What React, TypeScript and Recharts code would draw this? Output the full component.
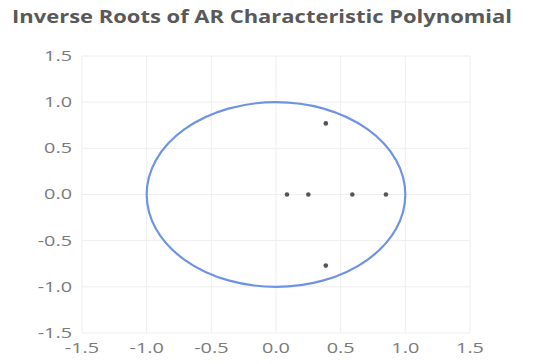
import React from "react";
import {
  ScatterChart,
  Scatter,
  XAxis,
  YAxis,
  CartesianGrid,
  ReferenceArea,
} from "recharts";

// Inverse roots: real and imaginary parts
const realParts = [0.085, 0.25, 0.59, 0.85, 0.385, 0.385];
const imagParts = [0, 0, 0, 0, 0.77, -0.77];
const axisTicks = [-1.5, -1.0, -0.5, 0.0, 0.5, 1.0, 1.5];
const unitRadius = 1;
const titleText = "Inverse Roots of AR Characteristic Polynomial";

const rootData = realParts.map((re, i) => ({ re, im: imagParts[i] }));

const W = 543;
const H = 364;

const TickLabel = (anchor: "middle" | "end") => (props: any) => {
  const { x, y, payload } = props;
  return (
    <g transform={`translate(${x},${y})`}>
      <text
        transform="scale(1.42,1)"
        textAnchor={anchor}
        dy={anchor === "end" ? "0.35em" : "0.71em"}
        fontSize={14}
        fontFamily="'Open Sans', sans-serif"
        fill="#7a7a7a"
      >
        {Number(payload.value).toFixed(1)}
      </text>
    </g>
  );
};

const Dot = (props: any) => {
  const { cx, cy } = props;
  return <circle cx={cx} cy={cy} r={2.3} fill="#555555" />;
};

const UnitCircle = (props: any) => {
  const { x, y, width, height } = props;
  return (
    <ellipse
      cx={x + width / 2}
      cy={y + height / 2}
      rx={width / 2}
      ry={height / 2}
      fill="none"
      stroke="#6e93e6"
      strokeWidth={2.2}
    />
  );
};

export default function App() {
  return (
    <div style={{ position: "absolute", left: 0, top: 0, width: W, height: H, background: "#fff" }}>
      <svg width={W} height={40} style={{ position: "absolute", left: 0, top: 0 }}>
        <text
          x={12}
          y={23}
          textLength={500}
          lengthAdjust="spacingAndGlyphs"
          fontSize={18}
          fontWeight="bold"
          fontFamily="'Open Sans', sans-serif"
          fill="#595959"
        >
          {titleText}
        </text>
      </svg>
      <div style={{ position: "absolute", left: 0, top: 0 }}>
        <ScatterChart
          width={W}
          height={H}
          margin={{ top: 56, right: 73, bottom: 6, left: 12 }}
        >
          <CartesianGrid stroke="#eeeeee" strokeWidth={1} />
          <XAxis
            type="number"
            dataKey="re"
            domain={[-1.5, 1.5]}
            ticks={axisTicks}
            axisLine={false}
            tickLine={false}
            tickSize={0}
            tickMargin={10}
            height={25}
            tick={TickLabel("middle")}
            allowDataOverflow
          />
          <YAxis
            type="number"
            dataKey="im"
            domain={[-1.5, 1.5]}
            ticks={axisTicks}
            axisLine={false}
            tickLine={false}
            tickSize={0}
            tickMargin={10}
            width={70}
            tick={TickLabel("end")}
            allowDataOverflow
          />
          <ReferenceArea
            x1={-unitRadius}
            x2={unitRadius}
            y1={-unitRadius}
            y2={unitRadius}
            shape={UnitCircle}
          />
          <Scatter data={rootData} shape={Dot} isAnimationActive={false} />
        </ScatterChart>
      </div>
    </div>
  );
}
